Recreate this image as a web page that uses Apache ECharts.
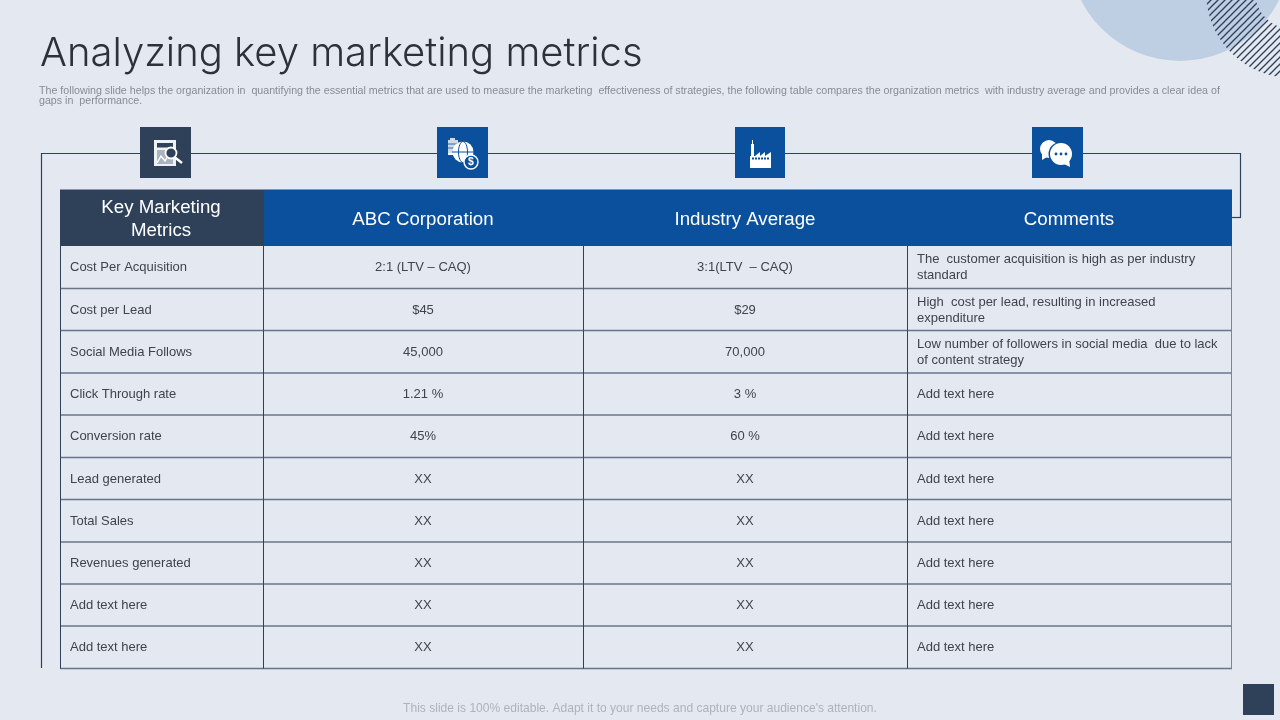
<!DOCTYPE html>
<html><head><meta charset="utf-8">
<style>html,body{margin:0;padding:0;background:#e4e9f1}#c{width:1280px;height:720px}</style>
<script src="https://cdn.jsdelivr.net/npm/echarts@6/dist/echarts.min.js"></script>
</head><body><div id="c"></div>
<script>
const titleText = 'Analyzing key marketing metrics';
const subText1 = 'The following slide helps the organization in  quantifying the essential metrics that are used to measure the marketing  effectiveness of strategies, the following table compares the organization metrics  with industry average and provides a clear idea of';
const subText2 = 'gaps in  performance.';
const footerText = "This slide is 100% editable. Adapt it to your needs and capture your audience's attention.";
const headers = ['Key Marketing\nMetrics', 'ABC Corporation', 'Industry Average', 'Comments'];
const metrics = ['Cost Per Acquisition', 'Cost per Lead', 'Social Media Follows', 'Click Through rate', 'Conversion rate', 'Lead generated', 'Total Sales', 'Revenues generated', 'Add text here', 'Add text here'];
const abc = ['2:1 (LTV – CAQ)', '$45', '45,000', '1.21 %', '45%', 'XX', 'XX', 'XX', 'XX', 'XX'];
const industry = ['3:1(LTV  – CAQ)', '$29', '70,000', '3 %', '60 %', 'XX', 'XX', 'XX', 'XX', 'XX'];
const comments = ['The  customer acquisition is high as per industry\nstandard', 'High  cost per lead, resulting in increased\nexpenditure', 'Low number of followers in social media  due to lack\nof content strategy', 'Add text here', 'Add text here', 'Add text here', 'Add text here', 'Add text here', 'Add text here', 'Add text here'];

const colEdges = [60, 264, 584, 908, 1232];
const rowEdges = [190, 246, 288.5, 330.5, 373, 415, 457.5, 499.5, 542, 584, 626, 668.5];
const BG = '#e4e9f1', BLUE = '#0a509c', NAVY = '#2f4059', GRID = '#2f4059', TXT = '#3f434b';

const columns = [metrics, abc, industry, comments];
const cells = [];
headers.forEach((h, c) => cells.push([c, 0, h]));
metrics.forEach((_, r) => columns.forEach((col, c) => cells.push([c, r + 1, col[r]])));

function hatch() {
  const cv = document.createElement('canvas');
  cv.width = 7; cv.height = 7;
  const x = cv.getContext('2d');
  x.strokeStyle = '#2f4059'; x.lineWidth = 1.3;
  [[-1,1,1,-1],[0,7,7,0],[6,8,8,6]].forEach(l => { x.beginPath(); x.moveTo(l[0],l[1]); x.lineTo(l[2],l[3]); x.stroke(); });
  return cv;
}

function iconBox(x, y, w, h, fill, children) {
  return { type: 'group', x: x, y: y, silent: true, children: [
    { type: 'rect', shape: { x: 0, y: 0, width: w, height: h }, style: { fill: fill } }
  ].concat(children) };
}
const W = { fill: '#fff' };
const line = (x1, y1, x2, y2, w) => ({ type: 'line', shape: { x1, y1, x2, y2 }, style: { stroke: NAVY, lineWidth: w || 1.2 }, silent: true });

const icon1 = [
  { type: 'rect', shape: { x: 14, y: 13, width: 22, height: 26 }, style: { fill: '#eef1f5' } },
  { type: 'rect', shape: { x: 17, y: 16, width: 16, height: 4.5 }, style: { fill: NAVY } },
  { type: 'rect', shape: { x: 17, y: 23, width: 16, height: 14 }, style: { fill: '#a9b3c2' } },
  { type: 'polyline', shape: { points: [[17, 36], [21, 29], [25, 34], [29, 27]] }, style: { stroke: '#fff', lineWidth: 1.4, fill: 'none' } },
  { type: 'circle', shape: { cx: 31, cy: 26, r: 5.5 }, style: { fill: NAVY, stroke: '#fff', lineWidth: 1.8 } },
  { type: 'line', shape: { x1: 35, y1: 30.5, x2: 42, y2: 36 }, style: { stroke: '#fff', lineWidth: 2.4 } }
];
const icon2 = [
  { type: 'rect', shape: { x: 11, y: 13, width: 10, height: 13 }, style: { fill: '#cfd9e8' } },
  { type: 'rect', shape: { x: 13, y: 11, width: 5, height: 2 }, style: { fill: '#cfd9e8' } },
  { type: 'line', shape: { x1: 11, y1: 17, x2: 21, y2: 17 }, style: { stroke: BLUE, lineWidth: 0.8 } },
  { type: 'line', shape: { x1: 11, y1: 21, x2: 21, y2: 21 }, style: { stroke: BLUE, lineWidth: 0.8 } },
  { type: 'rect', shape: { x: 11, y: 26, width: 12, height: 2 }, style: W },
  { type: 'circle', shape: { cx: 26, cy: 25, r: 10.5 }, style: W },
  { type: 'line', shape: { x1: 15, y1: 25, x2: 37, y2: 25 }, style: { stroke: BLUE, lineWidth: 1 } },
  { type: 'ellipse', shape: { cx: 26, cy: 25, rx: 4.5, ry: 10.5 }, style: { fill: 'none', stroke: BLUE, lineWidth: 1 } },
  { type: 'circle', shape: { cx: 34, cy: 35, r: 7 }, style: { fill: BLUE, stroke: '#fff', lineWidth: 1.4 } },
  { type: 'text', style: { x: 34, y: 35, text: '$', fill: '#fff', font: 'bold 10.5px "Liberation Sans"', align: 'center', verticalAlign: 'middle' } }
];
const icon3 = [
  { type: 'polygon', shape: { points: [[15, 41], [15, 29], [16, 29], [16, 17], [19, 17], [19, 29], [20, 29], [25, 25], [25, 29], [30, 25], [30, 29], [36, 25], [36, 41]] }, style: W },
  { type: 'rect', shape: { x: 17, y: 13, width: 1, height: 4 }, style: W }
];
const dots = [18, 21, 24, 27, 30, 33].map(x => ({ type: 'rect', shape: { x: x - 1, y: 30.5, width: 2, height: 2 }, style: { fill: BLUE } }));
const icon4 = [
  { type: 'circle', shape: { cx: 17, cy: 22, r: 9 }, style: W },
  { type: 'polygon', shape: { points: [[10, 26], [15, 30], [10, 33]] }, style: W },
  { type: 'circle', shape: { cx: 28.5, cy: 27, r: 12 }, style: { fill: BLUE } },
  { type: 'circle', shape: { cx: 29, cy: 27, r: 11 }, style: W },
  { type: 'polygon', shape: { points: [[30, 36], [37, 31], [38, 40]] }, style: W },
  { type: 'circle', shape: { cx: 24, cy: 27, r: 1.4 }, style: { fill: BLUE } },
  { type: 'circle', shape: { cx: 29, cy: 27, r: 1.4 }, style: { fill: BLUE } },
  { type: 'circle', shape: { cx: 34, cy: 27, r: 1.4 }, style: { fill: BLUE } }
];

const chart = echarts.init(document.getElementById('c'), null, { renderer: 'canvas', width: 1280, height: 720 });
chart.setOption({
  backgroundColor: BG,
  animation: false,
  grid: { left: 0, right: 0, top: 0, bottom: 0 },
  xAxis: { type: 'value', min: 0, max: 1280, show: false },
  yAxis: { type: 'value', min: 0, max: 720, inverse: true, show: false },
  graphic: { elements: [
    { type: 'circle', z: 0, silent: true, shape: { cx: 1180, cy: -50, r: 111 }, style: { fill: '#bfcfe3' } },
    { type: 'ring', z: 1, silent: true, shape: { cx: 1292, cy: -8, r: 86, r0: 37 }, style: { fill: { image: hatch(), repeat: 'repeat' } } },
    { type: 'text', silent: true, style: { x: 40, y: 54, text: titleText, fill: '#2d3138', font: '300 40px Inter', verticalAlign: 'middle' } },
    { type: 'text', silent: true, style: { x: 39, y: 91, text: subText1, fill: '#878c94', font: '10.68px "Liberation Sans"', verticalAlign: 'middle' } },
    { type: 'text', silent: true, style: { x: 39, y: 101.5, text: subText2, fill: '#878c94', font: '10.68px "Liberation Sans"', verticalAlign: 'middle' } },
    { type: 'text', silent: true, style: { x: 640, y: 708.5, text: footerText, fill: '#aeb3bb', font: '12.05px "Liberation Sans"', align: 'center', verticalAlign: 'middle' } },
    line(41.5, 153.5, 1240.5, 153.5),
    line(41.5, 153, 41.5, 668),
    line(1240.5, 153, 1240.5, 217.5),
    line(1232, 217.5, 1241, 217.5),
    iconBox(140, 127, 51, 51, NAVY, icon1),
    iconBox(437, 127, 51, 51, BLUE, icon2),
    iconBox(735, 127, 50, 51, BLUE, icon3.concat(dots)),
    iconBox(1032, 127, 51, 51, BLUE, icon4),
    { type: 'rect', silent: true, shape: { x: 1243, y: 684, width: 31, height: 31 }, style: { fill: NAVY } }
  ] },
  series: [{
    type: 'custom',
    coordinateSystem: 'cartesian2d',
    silent: true,
    clip: false,
    encode: { x: 0, y: 1 },
    data: cells,
    renderItem(params, api) {
      const c = api.value(0), r = api.value(1);
      const t = cells[params.dataIndex][2];
      const p0 = api.coord([colEdges[c], rowEdges[r]]);
      const p1 = api.coord([colEdges[c + 1], rowEdges[r + 1]]);
      const w = p1[0] - p0[0], h = p1[1] - p0[1];
      const vx = c === 0 ? p0[0] + 0.5 : p0[0] - 0.5;
      const kids = [];
      if (r === 0) {
        kids.push({ type: 'rect', shape: { x: p0[0], y: p0[1], width: w, height: h }, style: { fill: c === 0 ? NAVY : BLUE } });
        kids.push({ type: 'line', shape: { x1: p0[0], y1: p0[1] - 0.5, x2: p1[0], y2: p0[1] - 0.5 }, style: { stroke: '#8a96ab', lineWidth: 1 } });
        if (c > 1) kids.push({ type: 'line', shape: { x1: vx, y1: p0[1], x2: vx, y2: p1[1] }, style: { stroke: '#1f4a85', lineWidth: 1 } });
        kids.push({ type: 'text', style: { x: p0[0] + w / 2 - 1, y: p0[1] + h / 2 + (c === 0 ? 1 : 2), text: t, fill: '#fff', font: '18.7px "Liberation Sans"', align: 'center', verticalAlign: 'middle', lineHeight: 23 } });
      } else {
        kids.push({ type: 'line', shape: { x1: p0[0], y1: p1[1], x2: p1[0], y2: p1[1] }, style: { stroke: '#6a7489', lineWidth: 1.6 } });
        kids.push({ type: 'line', shape: { x1: vx, y1: p0[1], x2: vx, y2: p1[1] }, style: { stroke: GRID, lineWidth: 1 } });
        if (c === 3) kids.push({ type: 'line', shape: { x1: p1[0] - 0.5, y1: p0[1], x2: p1[0] - 0.5, y2: p1[1] }, style: { stroke: '#7c869a', lineWidth: 1 } });
        const centered = c === 1 || c === 2;
        const twoLine = t.indexOf('\n') >= 0;
        kids.push({ type: 'text', style: { x: centered ? p0[0] + w / 2 - 1 : p0[0] + (c === 3 ? 9 : 10), y: p0[1] + h / 2 + 0.5, text: t, fill: TXT, font: '13px "Liberation Sans"', align: centered ? 'center' : 'left', verticalAlign: 'middle', lineHeight: 16 } });
      }
      return { type: 'group', children: kids };
    }
  }]
});
</script></body></html>
